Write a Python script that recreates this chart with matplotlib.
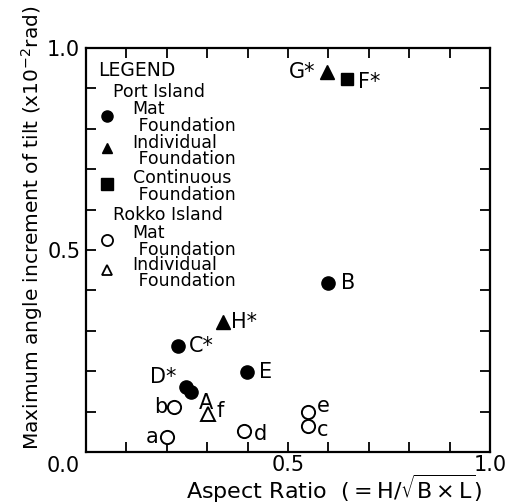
import matplotlib
matplotlib.use("Agg")
from matplotlib import pyplot as plt
import numpy as np

plt.rcParams['font.family'] = ['DejaVu Sans']
plt.rcParams['mathtext.fontset'] = 'dejavusans'

# Port Island
port_mat_labels = ['A', 'B', 'C*', 'D*', 'E']
port_mat_x = [0.26, 0.60, 0.228, 0.248, 0.398]
port_mat_y = [0.149, 0.418, 0.262, 0.161, 0.198]

port_ind_labels = ['G*', 'H*']
port_ind_x = [0.596, 0.339]
port_ind_y = [0.940, 0.322]

port_cont_labels = ['F*']
port_cont_x = [0.646]
port_cont_y = [0.923]

# Rokko Island
rokko_mat_labels = ['a', 'b', 'c', 'd', 'e']
rokko_mat_x = [0.200, 0.218, 0.550, 0.391, 0.550]
rokko_mat_y = [0.037, 0.111, 0.064, 0.052, 0.100]

rokko_ind_labels = ['f']
rokko_ind_x = [0.302]
rokko_ind_y = [0.094]

# label offsets in points (dx, dy, ha)
offsets = {
    'A': (6, -8, 'left'), 'B': (9, 0, 'left'), 'C*': (8, 0, 'left'),
    'D*': (-7, 7, 'right'), 'E': (9, 0, 'left'), 'G*': (-8, 0, 'right'),
    'H*': (6, 0, 'left'), 'F*': (8, -2, 'left'), 'a': (-6, 0, 'right'),
    'b': (-5, 0, 'right'), 'c': (6, -3, 'left'), 'd': (7, -2, 'left'),
    'e': (6, 4, 'left'), 'f': (6, 2, 'left'),
}

fig = plt.figure(figsize=(5.11, 5.04), dpi=100)
ax = fig.add_axes([0.168, 0.103, 0.791, 0.802])

ms = 9.5
ax.plot(port_mat_x, port_mat_y, 'o', color='k', ms=ms)
ax.plot(port_ind_x, port_ind_y, '^', color='k', ms=ms)
ax.plot(port_cont_x, port_cont_y, 's', color='k', ms=ms - 1)
ax.plot(rokko_mat_x, rokko_mat_y, 'o', mfc='white', mec='k', mew=1.4, ms=ms)
ax.plot(rokko_ind_x, rokko_ind_y, '^', mfc='white', mec='k', mew=1.4, ms=ms)

for labels, xs, ys in [(port_mat_labels, port_mat_x, port_mat_y),
                       (port_ind_labels, port_ind_x, port_ind_y),
                       (port_cont_labels, port_cont_x, port_cont_y),
                       (rokko_mat_labels, rokko_mat_x, rokko_mat_y),
                       (rokko_ind_labels, rokko_ind_x, rokko_ind_y)]:
    for lab, x, y in zip(labels, xs, ys):
        dx, dy, ha = offsets[lab]
        ax.annotate(lab, (x, y), xytext=(dx, dy), textcoords='offset points',
                    ha=ha, va='center', fontsize=15)

# legend drawn by hand
tx = ax.transAxes
fs = 12.5
ax.text(0.030, 0.945, 'LEGEND', transform=tx, fontsize=13.5, va='center')
ax.text(0.067, 0.891, 'Port Island', transform=tx, fontsize=fs, va='center')
ax.text(0.067, 0.587, 'Rokko Island', transform=tx, fontsize=fs, va='center')
entries = [
    (0.828, 0.832, 'Mat', dict(marker='o', color='k')),
    (0.745, 0.752, 'Individual', dict(marker='^', color='k')),
    (0.657, 0.663, 'Continuous', dict(marker='s', color='k')),
    (0.522, 0.525, 'Mat', dict(marker='o', mfc='white', mec='k', mew=1.3)),
    (0.443, 0.450, 'Individual', dict(marker='^', mfc='white', mec='k', mew=1.3)),
]
for yt, ym, name, mk in entries:
    ax.text(0.116, yt, name + '\n Foundation', transform=tx, fontsize=fs,
            va='center', linespacing=0.92)
    ax.plot([0.052], [ym], transform=tx, ms=8 if mk['marker'] != '^' else 7,
            ls='none', **mk)

ax.set_xlim(0, 1.0)
ax.set_ylim(0, 1.0)
ticks = np.arange(0, 1.01, 0.1)
ax.set_xticks(ticks)
ax.set_yticks(ticks)
ax.set_xticklabels(['' if abs(t - 0.5) > 1e-6 and abs(t - 1.0) > 1e-6 else f'{t:.1f}' for t in ticks])
ax.set_yticklabels(['' if abs(t - 0.5) > 1e-6 and abs(t - 1.0) > 1e-6 else f'{t:.1f}' for t in ticks])
ax.tick_params(direction='in', length=7, width=1.3, top=True, right=True,
               labelsize=15, pad=4)
ax.tick_params(axis='x', pad=2)
ax.text(-0.055, -0.034, '0.0', transform=tx, fontsize=15, ha='center', va='center')
for s in ax.spines.values():
    s.set_linewidth(1.6)

ax.set_xlabel(r'Aspect Ratio  $(=\mathrm{H}/\sqrt{\mathrm{B}\times\mathrm{L}})$', fontsize=16, va='center')
ax.xaxis.set_label_coords(0.614, -0.09)
ax.set_ylabel(r'Maximum angle increment of tilt (x10$^{-2}$rad)', fontsize=14.5, va='center')
ax.yaxis.set_label_coords(-0.134, 0.554)

fig.savefig('out.png', dpi=100)
